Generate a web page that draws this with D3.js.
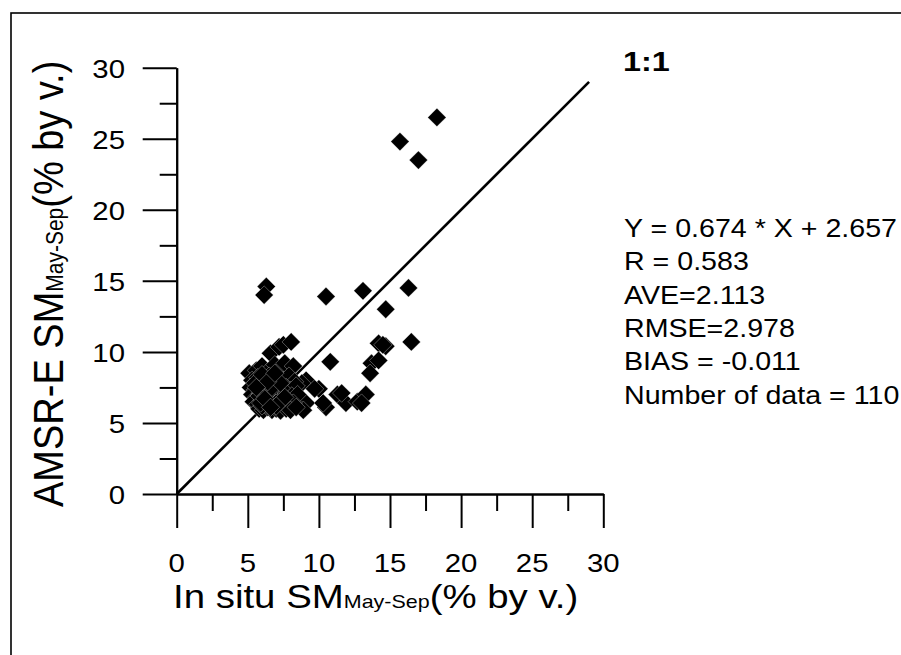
<!DOCTYPE html>
<html><head><meta charset="utf-8">
<script src="https://cdn.jsdelivr.net/npm/d3@7"></script>
<style>
body{margin:0;background:#fff}
svg{display:block}
text{font-family:"Liberation Sans",Arial,sans-serif;fill:#000}
</style>
</head><body>
<svg id="c" width="901" height="655"></svg>
<script>
// In situ soil moisture (x) and AMSR-E soil moisture (y), % by volume
const inSitu = [
  18.3,15.7,17.0,6.3,6.15,10.5,13.1,16.3,14.7,16.5,14.2,14.7,14.5,13.7,14.2,13.6,10.8,6.6,7.2,7.5,
  8.05,7.8,5.1,9.1,10.0,10.5,11.3,11.9,12.7,13.3,13.0,11.6,8.8,9.1,8.9,9.7,10.3,
  5.6,6.0,6.4,6.9,7.3,7.6,8.2,
  5.3,5.7,6.1,6.5,6.8,7.1,7.5,7.9,8.3,
  5.2,5.5,5.9,6.2,6.5,6.8,7.1,7.4,7.7,8.0,8.4,
  5.3,5.6,5.9,6.2,6.5,6.8,7.1,7.4,7.7,8.1,8.5,
  5.4,5.7,6.0,6.3,6.6,6.9,7.2,7.5,7.8,8.2,
  5.8,6.1,6.4,6.7,7.0,7.3,7.7,8.0,8.4,
  5.5,6.0,6.3,6.7,7.0,6.0,5.8,7.3,6.4,6.9,5.9,7.6,
  7.0,6.2,5.6,6.6
];
const amsrE = [
  26.5,24.8,23.5,14.6,14.0,13.9,14.3,14.5,13.0,10.7,10.6,10.4,10.5,9.2,9.4,8.5,9.3,9.9,10.35,10.5,
  10.7,8.9,8.5,8.0,7.4,6.1,7.0,6.4,6.5,7.0,6.4,7.1,7.8,6.4,5.9,7.4,6.4,
  8.7,9.0,8.6,9.1,8.8,9.2,9.0,
  8.0,8.2,7.9,8.3,7.9,8.2,8.0,8.3,7.9,
  7.5,7.3,7.6,7.4,7.7,7.3,7.6,7.2,7.5,7.3,7.6,
  7.0,6.8,7.1,6.9,7.2,6.8,7.0,6.7,7.1,6.9,7.0,
  6.5,6.3,6.6,6.4,6.6,6.3,6.5,6.3,6.6,6.4,
  6.0,5.9,6.1,5.9,6.0,5.85,6.0,5.9,6.1,
  7.8,8.4,7.0,7.5,6.4,6.2,6.9,7.8,7.9,8.5,6.4,6.8,
  6.2,6.7,7.5,6.1
];
const xMajorTicks = [0,5,10,15,20,25,30];
const xMinorTicks = [2.5,7.5,12.5,17.5,22.5,27.5];
const yMajorTicks = [0,5,10,15,20,25,30];
const yMinorTicks = [2.5,7.5,12.5,17.5,22.5,27.5];
const oneToOne = [0,29];
const statLines = ["Y = 0.674 * X + 2.657","R = 0.583","AVE=2.113","RMSE=2.978","BIAS = -0.011","Number of data = 110"];
const xTitle = ["In situ SM","May-Sep","(% by v.)"];
const yTitle = ["AMSR-E SM","May-Sep","(% by v.)"];
const lineLabel = "1:1";

const svg = d3.select("#c");
const SX = 1.13; // horizontal stretch of the original text

// outer frame (right/bottom edges lie outside the picture)
svg.append("rect").attr("x",11).attr("y",13).attr("width",1000).attr("height",1000)
  .attr("fill","none").attr("stroke","#000").attr("stroke-width",1.6);

const x = d3.scaleLinear().domain([0,30]).range([176.7,603.3]);
const y = d3.scaleLinear().domain([0,30]).range([494,67.7]);

function styleAxis(g){
  g.selectAll("path,line").attr("stroke","#000").attr("stroke-width",2);
  g.selectAll("text").remove();
}
// x axis
svg.append("g").attr("transform",`translate(0,${y(0)})`)
  .call(d3.axisBottom(x).tickValues(xMinorTicks).tickSize(17).tickSizeOuter(0).tickFormat(""))
  .call(styleAxis);
svg.append("g").attr("transform",`translate(0,${y(0)})`)
  .call(d3.axisBottom(x).tickValues(xMajorTicks).tickSize(34).tickSizeOuter(0).tickFormat(""))
  .call(styleAxis);
// y axis
svg.append("g").attr("transform",`translate(${x(0)},0)`)
  .call(d3.axisLeft(y).tickValues(yMinorTicks).tickSize(17).tickSizeOuter(0).tickFormat(""))
  .call(styleAxis);
svg.append("g").attr("transform",`translate(${x(0)},0)`)
  .call(d3.axisLeft(y).tickValues(yMajorTicks).tickSize(34).tickSizeOuter(0).tickFormat(""))
  .call(styleAxis);

// tick labels
svg.append("g").selectAll("text").data(xMajorTicks).join("text")
  .attr("transform",d=>`translate(${x(d)},572) scale(${SX},1)`)
  .attr("text-anchor","middle").attr("font-size",26).text(d=>d);
svg.append("g").selectAll("text").data(yMajorTicks).join("text")
  .attr("transform",d=>`translate(125,${y(d)+10}) scale(${SX},1)`)
  .attr("text-anchor","end").attr("font-size",26).text(d=>d);

// 1:1 line
svg.append("line")
  .attr("x1",x(oneToOne[0])).attr("y1",y(oneToOne[0]))
  .attr("x2",x(oneToOne[1])).attr("y2",y(oneToOne[1]))
  .attr("stroke","#000").attr("stroke-width",2.6);

// points
const sym = d3.symbol(d3.symbolSquare, 168);
svg.append("g").selectAll("path").data(d3.range(inSitu.length)).join("path")
  .attr("d",sym)
  .attr("transform",i=>`translate(${x(inSitu[i])},${y(amsrE[i])}) rotate(45)`)
  .attr("fill","#000").attr("stroke","#fff").attr("stroke-width",0.3);

// axis titles
const xt = svg.append("text").attr("transform",`translate(173,608) scale(${SX},1)`);
xt.append("tspan").attr("font-size",34).text(xTitle[0]);
xt.append("tspan").attr("font-size",19).text(xTitle[1]);
xt.append("tspan").attr("font-size",34).text(xTitle[2]);

const yt = svg.append("text").attr("transform",`translate(63,507) scale(${SX},1) rotate(-90)`);
yt.append("tspan").attr("font-size",38).text(yTitle[0]);
yt.append("tspan").attr("font-size",21).text(yTitle[1]);
yt.append("tspan").attr("font-size",38).text(yTitle[2]);

// 1:1 label
svg.append("text").attr("transform",`translate(623,71) scale(1.2,1)`)
  .attr("font-size",27).attr("font-weight","bold").text(lineLabel);

// statistics
svg.append("g").selectAll("text").data(statLines).join("text")
  .attr("transform",(d,i)=>`translate(624,${237+i*33.3}) scale(1.1,1)`)
  .attr("font-size",26).text(d=>d);
</script>
</body></html>
